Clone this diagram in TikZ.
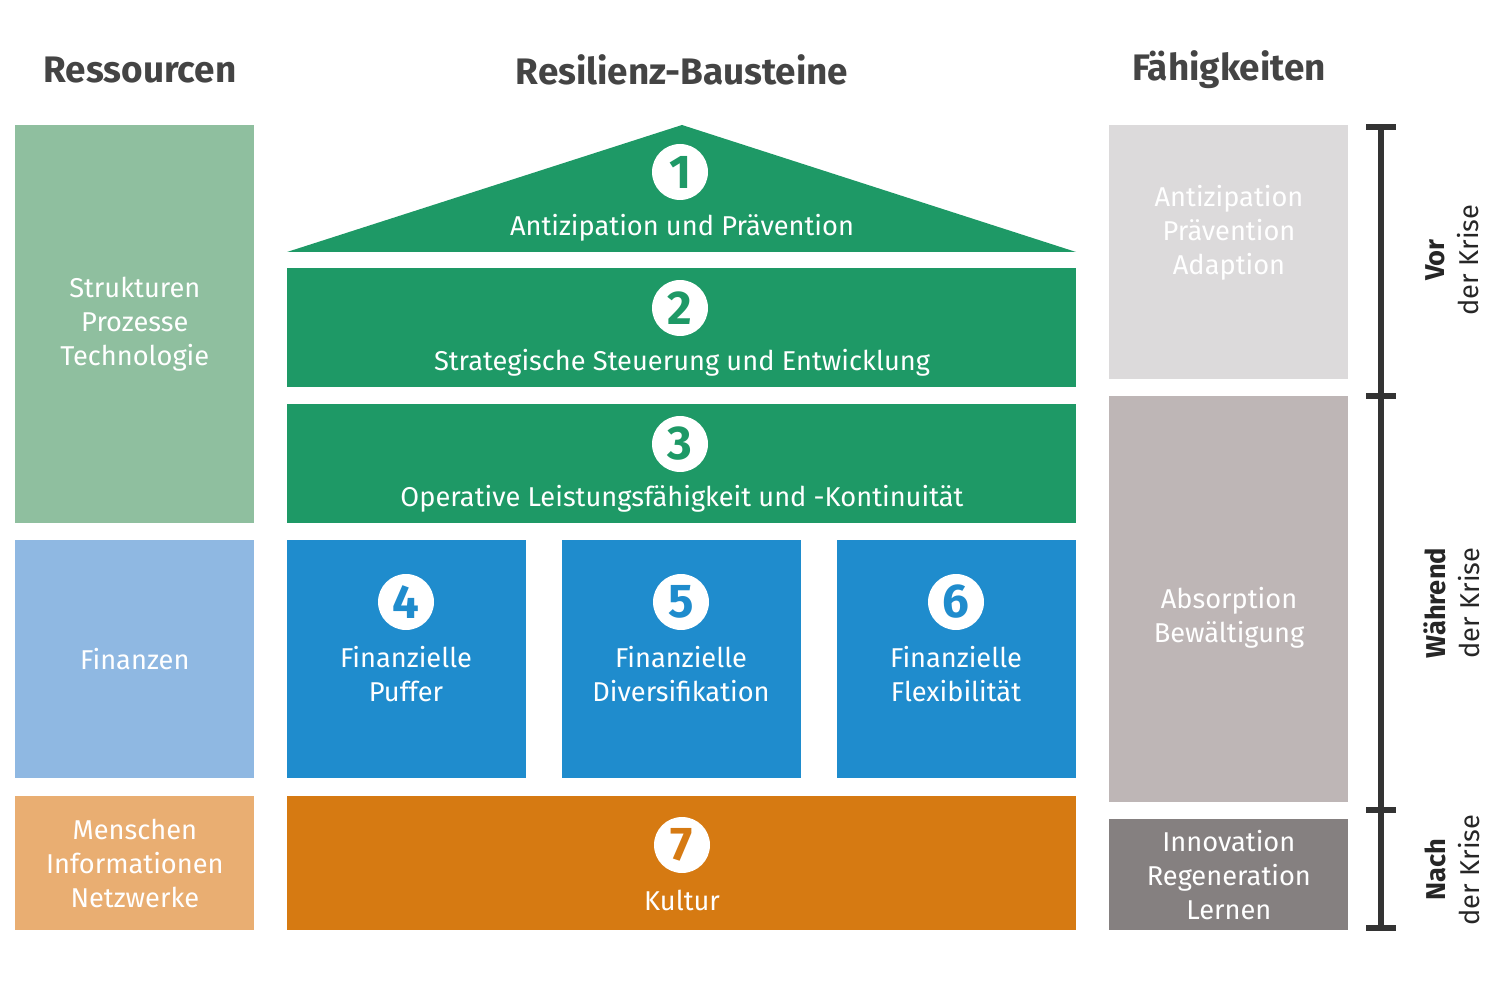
\documentclass[tikz,border=0pt]{standalone}
\usepackage{fontspec}
\setmainfont{Fira Sans}
\definecolor{dgreen}{HTML}{1E9966}
\definecolor{dblue}{HTML}{1F8CCD}
\definecolor{dorange}{HTML}{D67A12}
\definecolor{lgreen}{HTML}{8FBF9F}
\definecolor{lblue}{HTML}{8FB8E2}
\definecolor{lorange}{HTML}{E9AE72}
\definecolor{gA}{HTML}{DCDADB}
\definecolor{gB}{HTML}{BEB6B6}
\definecolor{gC}{HTML}{858080}
\definecolor{title}{HTML}{444444}
\tikzset{
  box/.style={anchor=north west,inner sep=0pt,text=white,align=center,font=\fontsize{15.5}{19.3}\selectfont},
  num/.style={circle,fill=white,minimum size=1.12cm,inner sep=0pt,font=\fontsize{27}{27}\selectfont\bfseries},
  head/.style={text=title,font=\fontsize{21}{24}\selectfont\bfseries},
  lbl/.style={text=white,align=center,font=\fontsize{15.5}{19.3}\selectfont},
  phase/.style={rotate=90,align=center,text=black!85,font=\fontsize{15.5}{19.3}\selectfont}
}
\begin{document}
\begin{tikzpicture}[x=0.02cm,y=-0.02cm]
\useasboundingbox (0,0) rectangle (1500,982);
% headings
\node[head] (h1) at (140,70) {Ressourcen};
\node[head] (h2) at (682,70) {Resilienz-Bausteine};
\node[head] (h3) at (1229,70) {Fähigkeiten};
% resources
\node[box,fill=lgreen,minimum width=4.78cm,minimum height=7.96cm] (r1) at (15,125) {};
\node[lbl] (r1t) at (r1.center) {Strukturen\\Prozesse\\Technologie};
\node[box,fill=lblue,minimum width=4.78cm,minimum height=4.76cm] (r2) at (15,540) {};
\node[lbl] (r2t) at (r2.center) {Finanzen};
\node[box,fill=lorange,minimum width=4.78cm,minimum height=2.68cm] (r3) at (15,796) {};
\node[lbl] (r3t) at (r3.center) {Menschen\\Informationen\\Netzwerke};
% building blocks
\fill[dgreen] (287,252) -- (682,125) -- (1076,252) -- cycle;
\node[num,text=dgreen] (n1) at (680,172) {1};
\node[lbl] (t1) at (682,228) {Antizipation und Prävention};
\node[box,fill=dgreen,minimum width=15.78cm,minimum height=2.38cm] (b2) at (287,268) {};
\node[num,text=dgreen] (n2) at (680,308) {2};
\node[lbl] (t2) at (682,363) {Strategische Steuerung und Entwicklung};
\node[box,fill=dgreen,minimum width=15.78cm,minimum height=2.38cm] (b3) at (287,404) {};
\node[num,text=dgreen] (n3) at (680,444) {3};
\node[lbl] (t3) at (682,499) {Operative Leistungsfähigkeit und -Kontinuität};
\foreach \x/\i/\txt in {287/4/Puffer,562/5/Diversifikation,837/6/Flexibilität}{
  \node[box,fill=dblue,minimum width=4.78cm,minimum height=4.76cm] (b\i) at (\x,540) {};
  \node[num,text=dblue] (n\i) at (\x+119,602) {\i};
  \node[lbl] (t\i) at (\x+119,674) {Finanzielle\\\txt};
}
\node[box,fill=dorange,minimum width=15.78cm,minimum height=2.68cm] (b7) at (287,796) {};
\node[num,text=dorange] (n7) at (682,845) {7};
\node[lbl] (t7) at (682,900) {Kultur};
% capabilities
\node[box,fill=gA,minimum width=4.78cm,minimum height=5.08cm] (f1) at (1109,125) {};
\node[lbl] (f1t) at (1229,233) {Antizipation\\Prävention\\Adaption};
\node[box,fill=gB,minimum width=4.78cm,minimum height=8.12cm] (f2) at (1109,396) {};
\node[lbl] (f2t) at (1229,618) {Absorption\\Bewältigung};
\node[box,fill=gC,minimum width=4.78cm,minimum height=2.22cm] (f3) at (1109,819) {};
\node[lbl] (f3t) at (f3.center) {Innovation\\Regeneration\\Lernen};
% phases
\coordinate (p0) at (1381,127);
\coordinate (p1) at (1381,396);
\coordinate (p2) at (1381,810);
\coordinate (p3) at (1381,928);
\draw[line width=3pt,black!80] (p0) -- (p3);
\foreach \p in {p0,p1,p2,p3}
  \draw[line width=3pt,black!80] ([xshift=-0.3cm]\p) -- ([xshift=0.3cm]\p);
\node[phase] (v) at (1452,260) {\textbf{Vor}\\der Krise};
\node[phase] (w) at (1452,603) {\textbf{Während}\\der Krise};
\node[phase] (a) at (1452,870) {\textbf{Nach}\\der Krise};
\end{tikzpicture}
\end{document}
